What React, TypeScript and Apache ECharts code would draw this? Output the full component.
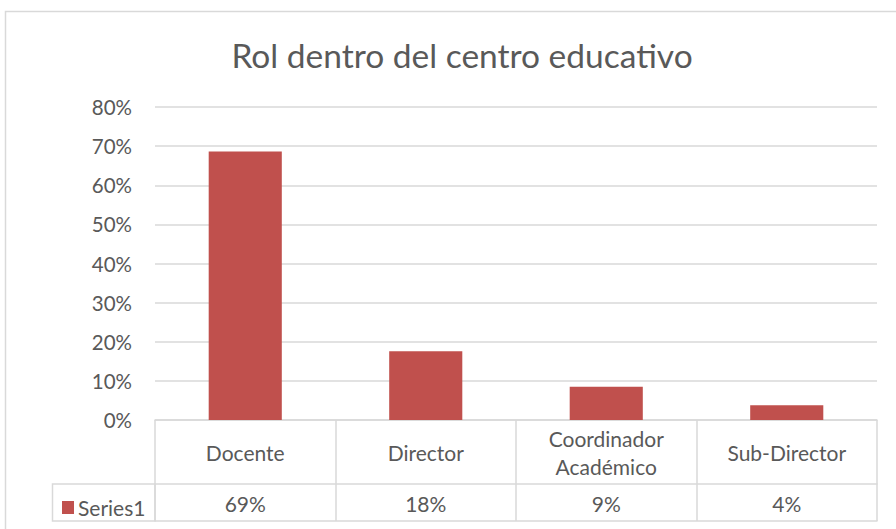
import React, { useEffect, useRef } from "react";
import * as echarts from "echarts";

const title = "Rol dentro del centro educativo";
const categories = ["Docente", "Director", "Coordinador\nAcadémico", "Sub-Director"];
const seriesName = "Series1";
const values = [0.686, 0.176, 0.085, 0.038];
const tableLabels = ["69%", "18%", "9%", "4%"];
const yTicks = { min: 0, max: 0.8, interval: 0.1 };

const FONT = "Lato";
const TXT = "#595959";
const LINE = "#d9d9d9";
const BAR = "#c0504d";

export default function App() {
  const ref = useRef<HTMLDivElement>(null);
  useEffect(() => {
    if (!ref.current) return;
    const chart = echarts.init(ref.current, undefined, { renderer: "svg" });
    const gridLeft = 155, gridRight = 896 - 877, gridTop = 107, gridBottom = 529 - 420;
    chart.setOption({
      animation: false,
      backgroundColor: "#ffffff",
      title: {
        text: title,
        left: 457,
        textAlign: "center",
        top: 33,
        textStyle: { fontFamily: FONT, fontSize: 33.5, fontWeight: "normal", color: TXT },
      },
      legend: {
        data: [seriesName],
        left: 57,
        top: 492,
        icon: "rect",
        itemWidth: 12,
        itemHeight: 13,
        itemGap: 0,
        textStyle: { fontFamily: FONT, fontSize: 21, color: TXT, padding: [0, 0, 0, -1] },
      },
      grid: { left: gridLeft, right: gridRight, top: gridTop, bottom: gridBottom, containLabel: false },
      xAxis: [
        {
          type: "category",
          data: categories,
          position: "bottom",
          axisLine: { show: true, lineStyle: { color: LINE, width: 1.5 } },
          axisTick: { show: true, length: 101, interval: 0, lineStyle: { color: LINE, width: 1.5 } },
          axisLabel: {
            interval: 0,
            margin: 32,
            verticalAlign: "middle",
            lineHeight: 28,
            fontFamily: FONT,
            fontSize: 21,
            color: TXT,
          },
        },
        {
          type: "category",
          data: categories,
          position: "bottom",
          offset: 64,
          axisLine: { show: true, lineStyle: { color: LINE, width: 1.5 } },
          axisTick: { show: false },
          axisLabel: {
            interval: 0,
            margin: 19,
            verticalAlign: "middle",
            fontFamily: FONT,
            fontSize: 21,
            color: TXT,
            formatter: (_v: string, i: number) => tableLabels[i],
          },
        },
        {
          type: "category",
          data: categories,
          position: "bottom",
          offset: 101,
          axisLine: { show: true, lineStyle: { color: LINE, width: 1.5 } },
          axisTick: { show: false },
          axisLabel: { show: false },
        },
      ],
      yAxis: {
        type: "value",
        min: yTicks.min,
        max: yTicks.max,
        interval: yTicks.interval,
        axisLine: { show: false },
        axisTick: { show: false },
        splitLine: { lineStyle: { color: LINE, width: 1.5 } },
        axisLabel: {
          margin: 23,
          fontFamily: FONT,
          fontSize: 20.5,
          color: TXT,
          formatter: (v: number) => `${Math.round(v * 100)}%`,
        },
      },
      series: [
        {
          name: seriesName,
          type: "bar",
          data: values,
          barWidth: "40.5%",
          itemStyle: { color: BAR },
        },
      ],
      graphic: [
        {
          type: "rect",
          shape: { x: 5.5, y: 11.5, width: 1000, height: 1000 },
          style: { fill: "none", stroke: LINE, lineWidth: 1.5 },
          silent: true,
          z: -1,
        },
        {
          type: "rect",
          shape: { x: 52.5, y: 484, width: 102.5, height: 37 },
          style: { fill: "none", stroke: LINE, lineWidth: 1.5 },
          silent: true,
        },
      ],
    });
    return () => chart.dispose();
  }, []);
  return (
    <div
      ref={ref}
      style={{ position: "absolute", left: 0, top: 0, width: 896, height: 529 }}
    />
  );
}
